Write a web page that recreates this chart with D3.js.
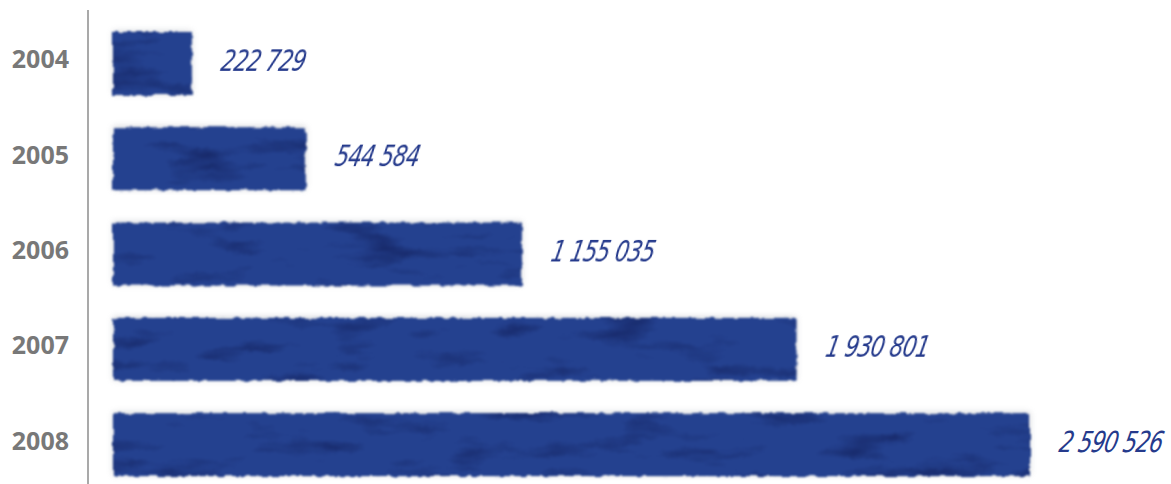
<!DOCTYPE html>
<html><head><meta charset="utf-8">
<script src="https://cdn.jsdelivr.net/npm/d3@7"></script>
<style>html,body{margin:0;padding:0;background:#fff;}svg{display:block;}</style>
</head><body>
<svg id="c" width="1171" height="484"></svg>
<script>
const years = ["2004","2005","2006","2007","2008"];
const values = [222729, 544584, 1155035, 1930801, 2590526];
const valueLabels = ["222 729","544 584","1 155 035","1 930 801","2 590 526"];

const svg = d3.select("#c");
const defs = svg.append("defs");
const f = defs.append("filter").attr("id","rough").attr("x","-5%").attr("y","-20%").attr("width","110%").attr("height","140%")
  .attr("color-interpolation-filters","sRGB");
f.append("feTurbulence").attr("type","fractalNoise").attr("baseFrequency","0.12").attr("numOctaves",2).attr("seed",3).attr("result","noise");
f.append("feDisplacementMap").attr("in","SourceGraphic").attr("in2","noise").attr("scale",5).attr("xChannelSelector","R").attr("yChannelSelector","G").attr("result","disp");
f.append("feGaussianBlur").attr("in","disp").attr("stdDeviation",0.8);

const tex = defs.append("filter").attr("id","tex").attr("x","0").attr("y","0").attr("width","100%").attr("height","100%")
  .attr("color-interpolation-filters","sRGB");
tex.append("feTurbulence").attr("type","fractalNoise").attr("baseFrequency","0.012 0.05").attr("numOctaves",3).attr("seed",7).attr("result","n");
tex.append("feColorMatrix").attr("in","n").attr("type","matrix").attr("values","0 0 0 0 0.08  0 0 0 0 0.14  0 0 0 0 0.38  0 0 0 -2.4 1.1").attr("result","dark");
tex.append("feComposite").attr("in","dark").attr("in2","SourceGraphic").attr("operator","in").attr("result","d2");
const m = tex.append("feMerge");
m.append("feMergeNode").attr("in","SourceGraphic");
m.append("feMergeNode").attr("in","d2");

const x = d3.scaleLinear().domain([0, 2590526]).range([113, 1030]);
const y = d3.scaleBand().domain(years).range([15.8, 492.3]).paddingInner(0.34).paddingOuter(0.17);

// axis line
svg.append("line").attr("x1",88).attr("x2",88).attr("y1",10).attr("y2",484)
  .attr("stroke","#8c8c8c").attr("stroke-width",1.5);

const data = years.map((yr,i)=>({yr, v:values[i], lab:valueLabels[i]}));

// shadow halo
svg.append("g").selectAll("rect").data(data).join("rect")
  .attr("x", x(0)).attr("y", d=>y(d.yr)).attr("width", d=>x(d.v)-x(0)).attr("height", y.bandwidth())
  .attr("fill","#8a8f9a").attr("opacity",0.35)
  .attr("transform","translate(0,-1)").style("filter","blur(3px)");

const bars = svg.append("g").attr("filter","url(#rough)");
bars.selectAll("rect").data(data).join("rect")
  .attr("x", x(0)).attr("y", d=>y(d.yr)).attr("width", d=>x(d.v)-x(0)).attr("height", y.bandwidth())
  .attr("fill","#24418f").attr("filter","url(#tex)");

// year labels
svg.append("g").selectAll("text").data(data).join("text")
  .attr("x", 69).attr("y", d=>y(d.yr)+y.bandwidth()/2-5)
  .attr("text-anchor","end").attr("dominant-baseline","central")
  .attr("font-family","'Open Sans', sans-serif").attr("font-weight",700).attr("font-size",25)
  .attr("fill","#787878").text(d=>d.yr);

// value labels
svg.append("g").selectAll("text").data(data).join("text")
  .attr("transform", d=>`translate(${x(d.v)+28},${y(d.yr)+y.bandwidth()/2+7}) scale(0.83,1) skewX(-14)`)
  .attr("font-family","'Liberation Sans Narrow','DejaVu Sans Condensed', sans-serif").attr("font-style","italic").attr("font-size",29)
  .attr("letter-spacing",-1)
  .attr("fill","#253a8c").text(d=>d.lab);
</script>
</body></html>
